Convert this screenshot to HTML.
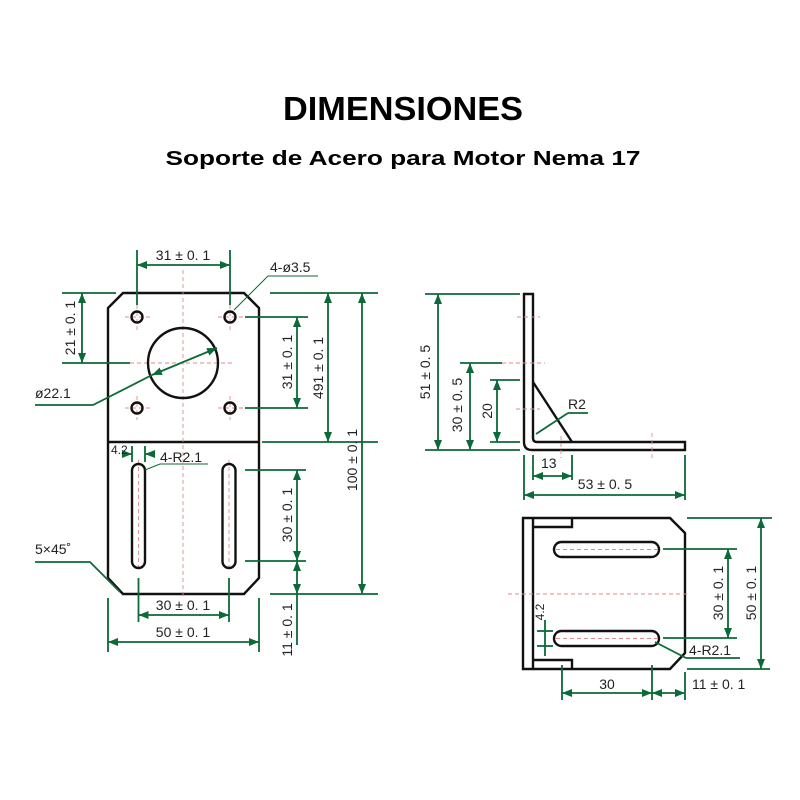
<!DOCTYPE html>
<html><head><meta charset="utf-8"><style>
html,body{margin:0;padding:0;background:#fff;width:800px;height:800px;overflow:hidden}
svg{display:block}
.t{font-family:"Liberation Sans",sans-serif;font-size:14px;fill:#222}
.g{stroke:#0b6a37;stroke-width:1.8;fill:none}
.k{stroke:#111;stroke-width:2.4;fill:none}
.r{stroke:#e08a8a;stroke-width:0.9;stroke-dasharray:4 3;fill:none}
.l{stroke:#0b6a37;stroke-width:1;fill:none}
</style></head><body>
<svg width="800" height="800" viewBox="0 0 800 800" xmlns="http://www.w3.org/2000/svg">
<defs>
<marker id="a" viewBox="0 0 10 10" refX="10" refY="5" markerWidth="10" markerHeight="10" orient="auto-start-reverse" markerUnits="userSpaceOnUse"><path d="M0,1 L10,5 L0,9 z" fill="#0b6a37"/></marker>
</defs>
<text x="403" y="120" text-anchor="middle" font-family="Liberation Sans,sans-serif" font-weight="bold" font-size="33" textLength="240" lengthAdjust="spacingAndGlyphs">DIMENSIONES</text>
<text x="403" y="165" text-anchor="middle" font-family="Liberation Sans,sans-serif" font-weight="bold" font-size="20" textLength="475" lengthAdjust="spacingAndGlyphs">Soporte de Acero para Motor Nema 17</text>

<!-- LEFT PLATE -->
<path class="k" d="M123,293 L244,293 L259,308 L259,578 L244,594 L123,594 L108,578 L108,308 Z M108,442 L259,442"/>
<line class="r" x1="183" y1="270" x2="183" y2="596"/>
<line class="r" x1="130" y1="363" x2="232" y2="363"/>
<g class="r"><line x1="137" y1="305" x2="137" y2="330"/><line x1="125" y1="317" x2="150" y2="317"/><line x1="230" y1="305" x2="230" y2="330"/><line x1="218" y1="317" x2="243" y2="317"/><line x1="137" y1="396" x2="137" y2="420"/><line x1="125" y1="408" x2="150" y2="408"/><line x1="230" y1="396" x2="230" y2="420"/><line x1="218" y1="408" x2="243" y2="408"/><line x1="138.5" y1="460" x2="138.5" y2="572"/><line x1="229" y1="460" x2="229" y2="572"/></g>
<g class="k"><circle cx="137" cy="317" r="5.5"/><circle cx="230" cy="317" r="5.5"/><circle cx="137" cy="408" r="5.5"/><circle cx="230" cy="408" r="5.5"/><circle cx="183" cy="363" r="35"/>
<rect x="132" y="464" width="13" height="104" rx="6.5"/><rect x="222.5" y="464" width="13" height="104" rx="6.5"/></g>

<g class="g">
<line x1="137" y1="250" x2="137" y2="305"/><line x1="230" y1="250" x2="230" y2="305"/>
<line x1="137" y1="265" x2="230" y2="265" marker-start="url(#a)" marker-end="url(#a)"/>
<line x1="62" y1="293" x2="116" y2="293"/><line x1="62" y1="363" x2="130" y2="363"/>
<line x1="82" y1="293" x2="82" y2="363" marker-start="url(#a)" marker-end="url(#a)"/>
<polyline points="35,405 93,405 152,375"/>
<line x1="152" y1="375" x2="217" y2="348" marker-start="url(#a)" marker-end="url(#a)"/>
<line x1="245" y1="317" x2="308" y2="317"/><line x1="245" y1="408" x2="308" y2="408"/>
<line x1="297" y1="317" x2="297" y2="408" marker-start="url(#a)" marker-end="url(#a)"/>
<line x1="270" y1="293" x2="378" y2="293"/><line x1="262" y1="442" x2="378" y2="442"/>
<line x1="328" y1="293" x2="328" y2="442" marker-start="url(#a)" marker-end="url(#a)"/>
<line x1="270" y1="594" x2="378" y2="594"/>
<line x1="362" y1="293" x2="362" y2="594" marker-start="url(#a)" marker-end="url(#a)"/>
<line x1="245" y1="470" x2="306" y2="470"/><line x1="245" y1="561" x2="306" y2="561"/>
<line x1="297" y1="470" x2="297" y2="561" marker-start="url(#a)" marker-end="url(#a)"/>
<line x1="297" y1="561" x2="297" y2="594" marker-start="url(#a)" marker-end="url(#a)"/>
<line x1="297" y1="594" x2="297" y2="645"/>
<line x1="138.5" y1="578" x2="138.5" y2="622"/><line x1="229" y1="578" x2="229" y2="622"/>
<line x1="138.5" y1="615" x2="229" y2="615" marker-start="url(#a)" marker-end="url(#a)"/>
<line x1="108" y1="598" x2="108" y2="652"/><line x1="259" y1="598" x2="259" y2="652"/>
<line x1="108" y1="642" x2="259" y2="642" marker-start="url(#a)" marker-end="url(#a)"/>
<line x1="132" y1="446" x2="132" y2="462"/><line x1="145" y1="446" x2="145" y2="462"/>
<line x1="122" y1="454" x2="132" y2="454" marker-end="url(#a)"/><line x1="155" y1="454" x2="145" y2="454" marker-end="url(#a)"/>
<polyline points="35,562 90,562 120,592"/>
</g>
<g class="l"><polyline points="318,276 268,276 234,310"/><polyline points="208,464 160,464 145,470"/></g>
<g class="t">
<text x="183" y="260" text-anchor="middle">31 ± 0. 1</text>
<text x="270" y="272">4-ø3.5</text>
<text x="35" y="398">ø22.1</text>
<text x="111" y="454" font-size="12">4.2</text>
<text x="160" y="462">4-R2.1</text>
<text x="35" y="554">5×45˚</text>
<text x="183" y="610" text-anchor="middle">30 ± 0. 1</text>
<text x="183" y="637" text-anchor="middle">50 ± 0. 1</text>
<text transform="translate(75,328) rotate(-90)" text-anchor="middle">21 ± 0. 1</text>
<text transform="translate(292,362) rotate(-90)" text-anchor="middle">31 ± 0. 1</text>
<text transform="translate(323,368) rotate(-90)" text-anchor="middle">491 ± 0. 1</text>
<text transform="translate(357,460) rotate(-90)" text-anchor="middle">100 ± 0. 1</text>
<text transform="translate(292,515) rotate(-90)" text-anchor="middle">30 ± 0. 1</text>
<text transform="translate(292,630) rotate(-90)" text-anchor="middle">11 ± 0. 1</text>
</g>

<!-- SIDE VIEW -->
<path class="k" d="M524,294 L533,294 L533,438 Q533,442 537,442 L685,442 L685,450 L532,450 Q524,450 524,442 Z"/>
<line class="k" x1="533" y1="382" x2="572" y2="442"/>
<g class="r"><line x1="517" y1="317" x2="540" y2="317"/><line x1="502" y1="363" x2="545" y2="363"/><line x1="516" y1="409" x2="540" y2="409"/><line x1="561" y1="436" x2="561" y2="458"/><line x1="652" y1="433" x2="652" y2="458"/></g>
<g class="g">
<line x1="425" y1="294" x2="520" y2="294"/><line x1="425" y1="450" x2="520" y2="450"/>
<line x1="438" y1="294" x2="438" y2="450" marker-start="url(#a)" marker-end="url(#a)"/>
<line x1="460" y1="363" x2="502" y2="363"/>
<line x1="470" y1="363" x2="470" y2="450" marker-start="url(#a)" marker-end="url(#a)"/>
<line x1="490" y1="380" x2="520" y2="380"/><line x1="490" y1="442" x2="520" y2="442"/>
<line x1="497" y1="380" x2="497" y2="442" marker-start="url(#a)" marker-end="url(#a)"/>
<line x1="536" y1="434" x2="568" y2="413"/><line x1="568" y1="413" x2="588" y2="413"/>
<line x1="533" y1="455" x2="533" y2="480"/><line x1="572" y1="455" x2="572" y2="480"/>
<line x1="533" y1="476" x2="572" y2="476" marker-start="url(#a)" marker-end="url(#a)"/>
<line x1="524" y1="455" x2="524" y2="500"/><line x1="685" y1="455" x2="685" y2="500"/>
<line x1="524" y1="495" x2="685" y2="495" marker-start="url(#a)" marker-end="url(#a)"/>
</g>
<g class="t">
<text transform="translate(430,372) rotate(-90)" text-anchor="middle">51 ± 0. 5</text>
<text transform="translate(462,405) rotate(-90)" text-anchor="middle">30 ± 0. 5</text>
<text transform="translate(492,411) rotate(-90)" text-anchor="middle">20</text>
<text x="568" y="409">R2</text>
<text x="541" y="468">13</text>
<text x="605" y="489" text-anchor="middle">53 ± 0. 5</text>
</g>

<!-- BOTTOM VIEW -->
<path class="k" d="M523,518 L670,518 L685,533 L685,653 L670,669 L523,669 Z M533,518 L533,669 M533,527 L572,527 L572,518 M533,660 L572,660 L572,669"/>
<g class="k"><rect x="554" y="542" width="105" height="15" rx="7.5"/><rect x="554" y="631" width="105" height="15" rx="7.5"/></g>
<g class="r"><line x1="508" y1="594" x2="688" y2="594"/><line x1="556" y1="549.5" x2="658" y2="549.5"/><line x1="556" y1="638.5" x2="658" y2="638.5"/></g>
<g class="g">
<line x1="663" y1="549" x2="737" y2="549"/><line x1="663" y1="638" x2="737" y2="638"/>
<line x1="728" y1="549" x2="728" y2="638" marker-start="url(#a)" marker-end="url(#a)"/>
<line x1="687" y1="518" x2="772" y2="518"/><line x1="687" y1="669" x2="770" y2="669"/>
<line x1="761" y1="518" x2="761" y2="669" marker-start="url(#a)" marker-end="url(#a)"/>
<line x1="562" y1="665" x2="562" y2="700"/><line x1="652" y1="665" x2="652" y2="700"/><line x1="685" y1="672" x2="685" y2="700"/>
<line x1="562" y1="693" x2="652" y2="693" marker-start="url(#a)" marker-end="url(#a)"/>
<line x1="652" y1="693" x2="685" y2="693" marker-start="url(#a)" marker-end="url(#a)"/>
<line x1="655" y1="642" x2="686" y2="658"/><line x1="686" y1="658" x2="740" y2="658"/>
<line x1="537" y1="631" x2="553" y2="631"/><line x1="537" y1="646" x2="553" y2="646"/>
<line x1="545" y1="620" x2="545" y2="656"/>
</g>
<g class="t">
<text transform="translate(723,593) rotate(-90)" text-anchor="middle">30 ± 0. 1</text>
<text transform="translate(756,593) rotate(-90)" text-anchor="middle">50 ± 0. 1</text>
<text transform="translate(544,612) rotate(-90)" text-anchor="middle" font-size="12">4.2</text>
<text x="689" y="655">4-R2.1</text>
<text x="607" y="689" text-anchor="middle">30</text>
<text x="692" y="689">11 ± 0. 1</text>
</g>
</svg>
</body></html>
